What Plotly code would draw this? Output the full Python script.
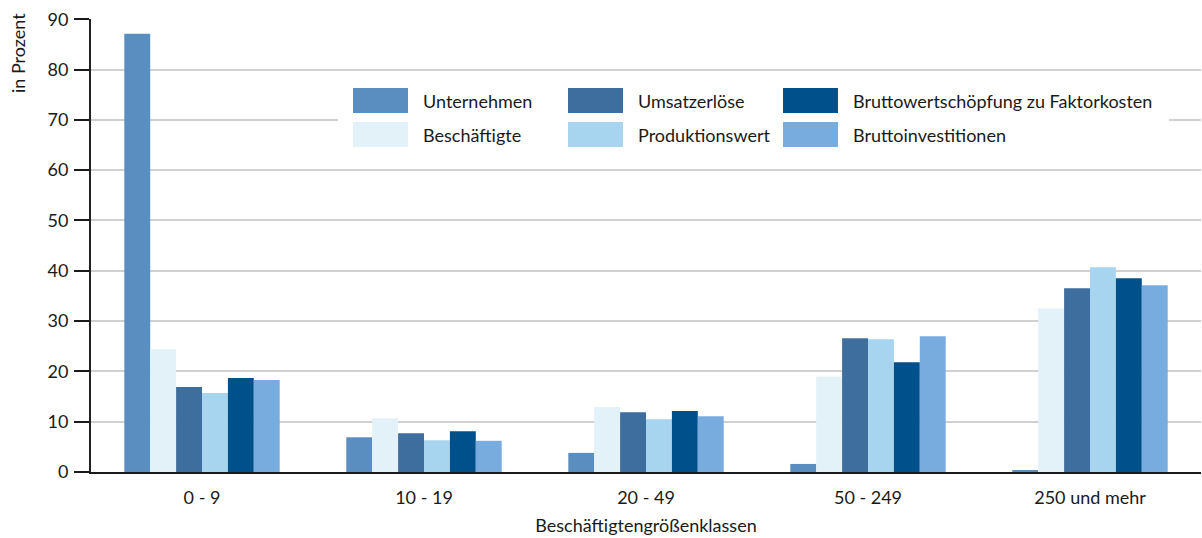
import plotly.graph_objects as go

categories = ["0 - 9", "10 - 19", "20 - 49", "50 - 249", "250 und mehr"]
series_names = ["Unternehmen", "Beschäftigte", "Umsatzerlöse", "Produktionswert",
                "Bruttowertschöpfung zu Faktorkosten", "Bruttoinvestitionen"]
unternehmen = [87.1, 6.9, 3.8, 1.6, 0.2]
beschaeftigte = [24.4, 10.7, 12.9, 19.0, 32.5]
umsatzerloese = [16.9, 7.7, 11.9, 26.6, 36.5]
produktionswert = [15.7, 6.3, 10.5, 26.4, 40.7]
bruttowertschoepfung = [18.7, 8.1, 12.1, 21.8, 38.5]
bruttoinvestitionen = [18.3, 6.2, 11.1, 27.0, 37.1]
series_values = [unternehmen, beschaeftigte, umsatzerloese, produktionswert,
                 bruttowertschoepfung, bruttoinvestitionen]
colors = ["#5a8dc0", "#e3f1f8", "#3d6e9e", "#a7d4ee", "#00508c", "#78acdf"]
y_ticks = [0, 10, 20, 30, 40, 50, 60, 70, 80, 90]

FONT = "Lato"
W, H = 1202, 538
# plot area in page pixels: x 91..1201, y 19..472
ML, MR, MT, MB = 91, 1, 19, 538 - 472
PW, PH = W - ML - MR, H - MT - MB

fig = go.Figure()
for name, vals, col in zip(series_names, series_values, colors):
    fig.add_trace(go.Bar(x=categories, y=vals, name=name, marker_color=col,
                         marker_line_width=0, showlegend=False))

def px_x(p):
    return (p - ML) / PW

def px_y(p):
    return (H - MB - p) / PH

shapes = []
annotations = []
shapes.append(dict(type="rect", xref="paper", yref="paper", layer="above",
                   x0=px_x(338), x1=px_x(1169), y0=px_y(158), y1=px_y(78),
                   fillcolor="white", line_width=0))
order = [0, 2, 4, 1, 3, 5]
col_x = [353, 568, 783]
row_y = [88, 122]
for k, idx in enumerate(order):
    r, c = divmod(k, 3)
    x0 = col_x[c]
    y0 = row_y[r]
    shapes.append(dict(type="rect", xref="paper", yref="paper", layer="above",
                       x0=px_x(x0), x1=px_x(x0 + 55), y0=px_y(y0 + 25), y1=px_y(y0),
                       fillcolor=colors[idx], line_width=0))
    annotations.append(dict(xref="paper", yref="paper", x=px_x(x0 + 68), y=px_y(y0 + 13),
                            xanchor="left", yanchor="middle", showarrow=False,
                            text=series_names[idx],
                            font=dict(family=FONT, size=18, color="#1a1a1a")))

annotations.append(dict(xref="paper", yref="paper", x=px_x(18), y=px_y(11),
                        xanchor="center", yanchor="top", textangle=-90, showarrow=False,
                        text="in Prozent", font=dict(family=FONT, size=18, color="#1a1a1a")))

fig.update_layout(
    width=W, height=H,
    margin=dict(l=ML, r=MR, t=MT, b=MB, pad=0),
    paper_bgcolor="white", plot_bgcolor="white",
    barmode="group", bargap=0.30, bargroupgap=0,
    font=dict(family=FONT, size=18, color="#1a1a1a"),
    shapes=shapes, annotations=annotations,
    xaxis=dict(showline=True, linecolor="#1a1a1a", linewidth=2, ticks="",
               showgrid=False, tickfont=dict(size=18), ticklabelstandoff=8,
               title=dict(text="Beschäftigtengrößenklassen", font=dict(size=18), standoff=13)),
    yaxis=dict(range=[0, 90.04], tickvals=y_ticks, showline=True, linecolor="#222222",
               linewidth=2, ticks="outside", ticklen=15, tickwidth=2, tickcolor="#1a1a1a",
               showgrid=True, gridcolor="#d0d0d0", gridwidth=2, zeroline=False,
               tickfont=dict(size=18), ticklabelstandoff=2),
)

fig.write_html("out.html", config={"displayModeBar": False},
               post_script="document.body.style.margin='0';")
